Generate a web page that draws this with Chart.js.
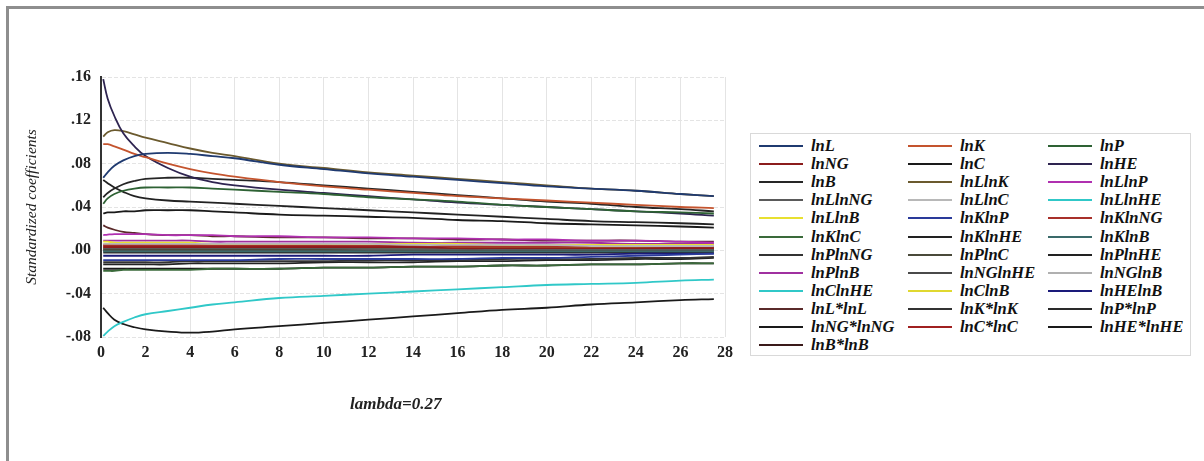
<!DOCTYPE html>
<html>
<head>
<meta charset="utf-8">
<script src="https://cdn.jsdelivr.net/npm/chart.js@4.4.1/dist/chart.umd.min.js"></script>
<style>
  html, body { margin:0; padding:0; background:#fff; }
  #wrap { position:relative; width:1204px; height:461px; overflow:hidden; }
  #frame { position:absolute; left:6px; top:6px; width:1210px; height:470px;
           border-top:3px solid #8e8e8e; border-left:3px solid #8e8e8e; box-sizing:border-box; }
  #cv { position:absolute; left:0; top:0; }
  #legend { position:absolute; left:750px; top:133px; width:441px; height:223px;
            border:1px solid #d9d9d9; box-sizing:border-box; background:#fff;
            font-family:"Liberation Serif","Times New Roman",serif; font-style:italic; font-weight:bold;
            font-size:16.5px; color:#111; }
  .li { position:absolute; height:18px; line-height:18px; white-space:nowrap; }
  .li .sw { position:absolute; left:0; top:8px; width:44px; height:0; border-top:2.5px solid #000; }
  .li .tx { position:absolute; left:52px; top:0; }
  #lam { position:absolute; left:350px; top:394px; font-family:"Liberation Serif","Times New Roman",serif;
         font-style:italic; font-weight:bold; font-size:17px; color:#222; white-space:nowrap; }
</style>
</head>
<body>
<div id="wrap">
  <div id="frame"></div>
  <canvas id="cv"></canvas>
  <div id="legend"></div>
  <div id="lam">lambda=0.27</div>
</div>
<script>
// ---- data ----
const lambdaVals = [0.1, 0.3, 0.6, 1, 1.5, 2, 3, 4, 5, 6, 8, 10, 12, 14, 16, 18, 20, 22, 24, 26, 27.5];
const xTicks = [0, 2, 4, 6, 8, 10, 12, 14, 16, 18, 20, 22, 24, 26, 28];
const yTicks = [-0.08, -0.04, 0.00, 0.04, 0.08, 0.12, 0.16];
const seriesNames = ["lnL","lnK","lnP","lnNG","lnC","lnHE","lnB","lnLlnK","lnLlnP","lnLlnNG","lnLlnC","lnLlnHE",
  "lnLlnB","lnKlnP","lnKlnNG","lnKlnC","lnKlnHE","lnKlnB","lnPlnNG","lnPlnC","lnPlnHE","lnPlnB","lnNGlnHE","lnNGlnB",
  "lnClnHE","lnClnB","lnHElnB","lnL*lnL","lnK*lnK","lnP*lnP","lnNG*lnNG","lnC*lnC","lnHE*lnHE","lnB*lnB"];
const seriesColors = ["#1f3a70","#c4542e","#2e6234","#8b1c1c","#1a1a1a","#2e2450","#262626","#6b5a2e","#b030b0","#5a5a5a","#b8b8b8","#30c8c8",
  "#e8e030","#2a3a9a","#a8302a","#3a6a3a","#222222","#3a6a6a","#333333","#4a4a3a","#222222","#a030a0","#4a4a4a","#b0b0b0",
  "#30c8c8","#e0d830","#1a1a7a","#5a2a2a","#333333","#2a2a2a","#1a1a1a","#a02020","#1a1a1a","#3a1a1a"];

const lnL      = [.067,.072,.078,.083,.087,.089,.090,.089,.087,.085,.079,.075,.071,.068,.065,.062,.059,.057,.055,.052,.050];
const lnK      = [.098,.098,.096,.093,.089,.086,.080,.075,.071,.068,.063,.059,.056,.053,.050,.048,.046,.044,.042,.040,.039];
const lnP      = [.043,.048,.052,.055,.057,.058,.058,.058,.057,.056,.054,.052,.049,.047,.045,.042,.040,.038,.036,.035,.034];
const lnNG     = [.003,.003,.003,.003,.003,.003,.003,.003,.003,.003,.003,.003,.003,.003,.002,.002,.002,.002,.002,.002,.002];
const lnC      = [.034,.035,.035,.036,.036,.037,.037,.037,.036,.035,.033,.032,.031,.030,.028,.027,.025,.024,.023,.022,.021];
const lnHE     = [.158,.140,.124,.108,.096,.087,.076,.068,.063,.060,.056,.053,.050,.047,.044,.042,.040,.038,.036,.034,.032];
const lnB      = [.049,.053,.057,.061,.064,.066,.067,.067,.066,.065,.063,.060,.057,.054,.051,.048,.045,.043,.040,.038,.036];
const lnLlnK   = [.105,.109,.111,.110,.107,.104,.099,.094,.090,.087,.080,.076,.072,.069,.066,.063,.060,.057,.055,.052,.050];
const lnLlnP   = [.014,.0145,.015,.015,.015,.015,.014,.014,.014,.013,.013,.012,.012,.011,.011,.010,.010,.009,.009,.008,.007];
const lnLlnNG  = [.002,.002,.002,.002,.002,.002,.002,.002,.002,.002,.002,.002,.001,.001,.001,.001,.001,.001,.001,.001,.001];
const lnLlnC   = [.006,.006,.006,.006,.006,.006,.006,.006,.006,.006,.006,.006,.006,.005,.005,.005,.005,.004,.004,.004,.004];
const lnLlnHE  = [-.079,-.075,-.070,-.066,-.062,-.059,-.056,-.053,-.050,-.048,-.044,-.042,-.040,-.038,-.036,-.034,-.032,-.031,-.030,-.028,-.027];
const lnLlnB   = [.008,.008,.007,.007,.007,.007,.007,.007,.006,.006,.006,.006,.006,.006,.006,.005,.005,.005,.005,.005,.005];
const lnKlnP   = [-.009,-.009,-.009,-.009,-.009,-.009,-.009,-.009,-.009,-.009,-.008,-.008,-.008,-.008,-.008,-.007,-.007,-.006,-.005,-.004,-.003];
const lnKlnNG  = [.005,.005,.005,.005,.005,.005,.005,.005,.005,.005,.005,.005,.004,.004,.004,.004,.004,.004,.004,.003,.003];
const lnKlnC   = [-.019,-.019,-.019,-.018,-.018,-.018,-.018,-.018,-.017,-.017,-.017,-.016,-.016,-.015,-.015,-.014,-.014,-.013,-.013,-.012,-.012];
const lnKlnHE  = [.065,.062,.058,.054,.050,.048,.046,.045,.044,.043,.041,.039,.037,.035,.033,.031,.029,.027,.026,.025,.024];
const lnKlnB   = [-.001,-.001,-.001,-.001,-.001,-.001,-.001,-.001,-.001,-.001,-.001,-.001,-.001,-.001,-.001,-.001,-.001,-.001,-.001,-.001,-.001];
const lnPlnNG  = [-.011,-.011,-.011,-.011,-.011,-.011,-.011,-.010,-.010,-.010,-.010,-.010,-.009,-.009,-.009,-.008,-.008,-.008,-.007,-.007,-.006];
const lnPlnC   = [.001,.001,.001,.001,.001,.001,.001,.001,.001,.001,.001,.001,.001,.001,.001,.001,.001,.001,.001,.001,.001];
const lnPlnHE  = [-.013,-.013,-.013,-.013,-.013,-.013,-.013,-.012,-.012,-.012,-.012,-.011,-.011,-.011,-.010,-.010,-.009,-.009,-.008,-.008,-.007];
const lnPlnB   = [.009,.009,.009,.009,.009,.009,.009,.009,.008,.008,.008,.008,.008,.007,.007,.007,.007,.007,.006,.006,.006];
const lnNGlnHE = [.000,.000,.000,.000,.000,.000,.000,.000,.000,.000,.000,.000,.000,.000,.000,.000,.000,.000,.000,.000,.000];
const lnNGlnB  = [.001,.001,.001,.001,.001,.001,.001,.001,.001,.001,.001,.001,.001,.001,.001,.001,.001,.001,.001,.001,.001];
const lnClnHE  = [.000,.000,.000,.000,.000,.000,.000,.000,.000,.000,.000,.000,.000,.000,.000,.000,.000,.000,.000,.000,.000];
const lnClnB   = [.002,.002,.002,.002,.002,.002,.002,.002,.002,.002,.002,.002,.002,.002,.002,.002,.002,.002,.002,.002,.002];
const lnHElnB  = [-.005,-.005,-.005,-.005,-.005,-.005,-.005,-.005,-.005,-.005,-.005,-.005,-.005,-.004,-.004,-.004,-.004,-.004,-.003,-.003,-.003];
const lnLsq    = [.023,.021,.019,.017,.016,.015,.014,.014,.013,.013,.012,.012,.011,.011,.010,.010,.009,.009,.009,.008,.008];
const lnKsq    = [.000,.000,.000,.000,.000,.000,.000,.000,.000,.000,.000,.000,.000,.000,.000,.000,.000,.000,.000,.000,.000];
const lnPsq    = [-.002,-.002,-.002,-.002,-.002,-.002,-.002,-.002,-.002,-.002,-.002,-.002,-.002,-.002,-.002,-.002,-.002,-.002,-.002,-.002,-.002];
const lnNGsq   = [-.017,-.017,-.017,-.017,-.017,-.017,-.017,-.017,-.017,-.017,-.017,-.016,-.016,-.015,-.015,-.014,-.014,-.013,-.013,-.012,-.012];
const lnCsq    = [.004,.004,.004,.004,.004,.004,.004,.004,.004,.004,.004,.004,.004,.004,.003,.003,.003,.003,.003,.003,.003];
const lnHEsq   = [-.053,-.058,-.064,-.068,-.071,-.073,-.075,-.076,-.075,-.073,-.070,-.067,-.064,-.061,-.058,-.055,-.053,-.050,-.048,-.046,-.045];
const lnBsq    = [.001,.001,.001,.001,.001,.001,.001,.001,.001,.001,.001,.001,.001,.001,.001,.001,.001,.001,.001,.001,.001];

const seriesValues = [lnL,lnK,lnP,lnNG,lnC,lnHE,lnB,lnLlnK,lnLlnP,lnLlnNG,lnLlnC,lnLlnHE,lnLlnB,lnKlnP,lnKlnNG,lnKlnC,
  lnKlnHE,lnKlnB,lnPlnNG,lnPlnC,lnPlnHE,lnPlnB,lnNGlnHE,lnNGlnB,lnClnHE,lnClnB,lnHElnB,lnLsq,lnKsq,lnPsq,lnNGsq,lnCsq,lnHEsq,lnBsq];

// ---- chart ----
const datasets = seriesNames.map((name, i) => ({
  label: name,
  data: lambdaVals.map((x, j) => ({ x: x, y: seriesValues[i][j] })),
  borderColor: seriesColors[i],
  backgroundColor: seriesColors[i],
  borderWidth: 1.8,
  pointRadius: 0,
  tension: 0.4,
  fill: false
}));

const tickFont = { family: "'Liberation Serif','Times New Roman',serif", size: 16, weight: 'bold' };

const chart = new Chart(document.getElementById('cv'), {
  type: 'line',
  data: { datasets },
  options: {
    responsive: true,
    maintainAspectRatio: false,
    animation: false,
    layout: { padding: { left: 0, right: 479, top: 77, bottom: 100 } },
    plugins: { legend: { display: false }, tooltip: { enabled: false } },
    scales: {
      x: {
        type: 'linear', min: 0, max: 28,
        afterBuildTicks: s => { s.ticks = xTicks.map(v => ({ value: v })); },
        afterFit: s => { s.height = 24; },
        grid: { color: '#e4e4e4', lineWidth: 1, drawTicks: false },
        border: { display: false },
        ticks: { color: '#222', font: tickFont, padding: 6, maxRotation: 0, callback: v => String(v) }
      },
      y: {
        type: 'linear', min: -0.08, max: 0.16,
        afterBuildTicks: s => { s.ticks = yTicks.map(v => ({ value: v })); },
        afterFit: s => { s.width = 101; },
        grid: { color: '#e4e4e4', lineWidth: 1, drawTicks: false },
        border: { display: true, color: '#333', width: 2, dash: [4, 2] },
        ticks: { color: '#222', font: tickFont, padding: 10,
                 callback: v => { const s = Number(v).toFixed(2); return s.replace('0.', '.'); } },
        title: { display: true, text: 'Standardized coefficients', color: '#222',
                 font: { family: "'Liberation Serif','Times New Roman',serif", size: 15.5, style: 'italic' },
                 padding: { top: 23, bottom: 0 } }
      }
    }
  }
});

// ---- HTML legend built from the chart's datasets ----
const legendEl = document.getElementById('legend');
const colX = [8, 157, 297];
chart.data.datasets.forEach((ds, i) => {
  const r = Math.floor(i / 3), c = i % 3;
  const item = document.createElement('div');
  item.className = 'li';
  item.style.left = colX[c] + 'px';
  item.style.top = (3 + r * 18.1) + 'px';
  const sw = document.createElement('span');
  sw.className = 'sw';
  sw.style.borderTopColor = ds.borderColor;
  const tx = document.createElement('span');
  tx.className = 'tx';
  tx.textContent = ds.label;
  item.appendChild(sw); item.appendChild(tx);
  legendEl.appendChild(item);
});
</script>
</body>
</html>
